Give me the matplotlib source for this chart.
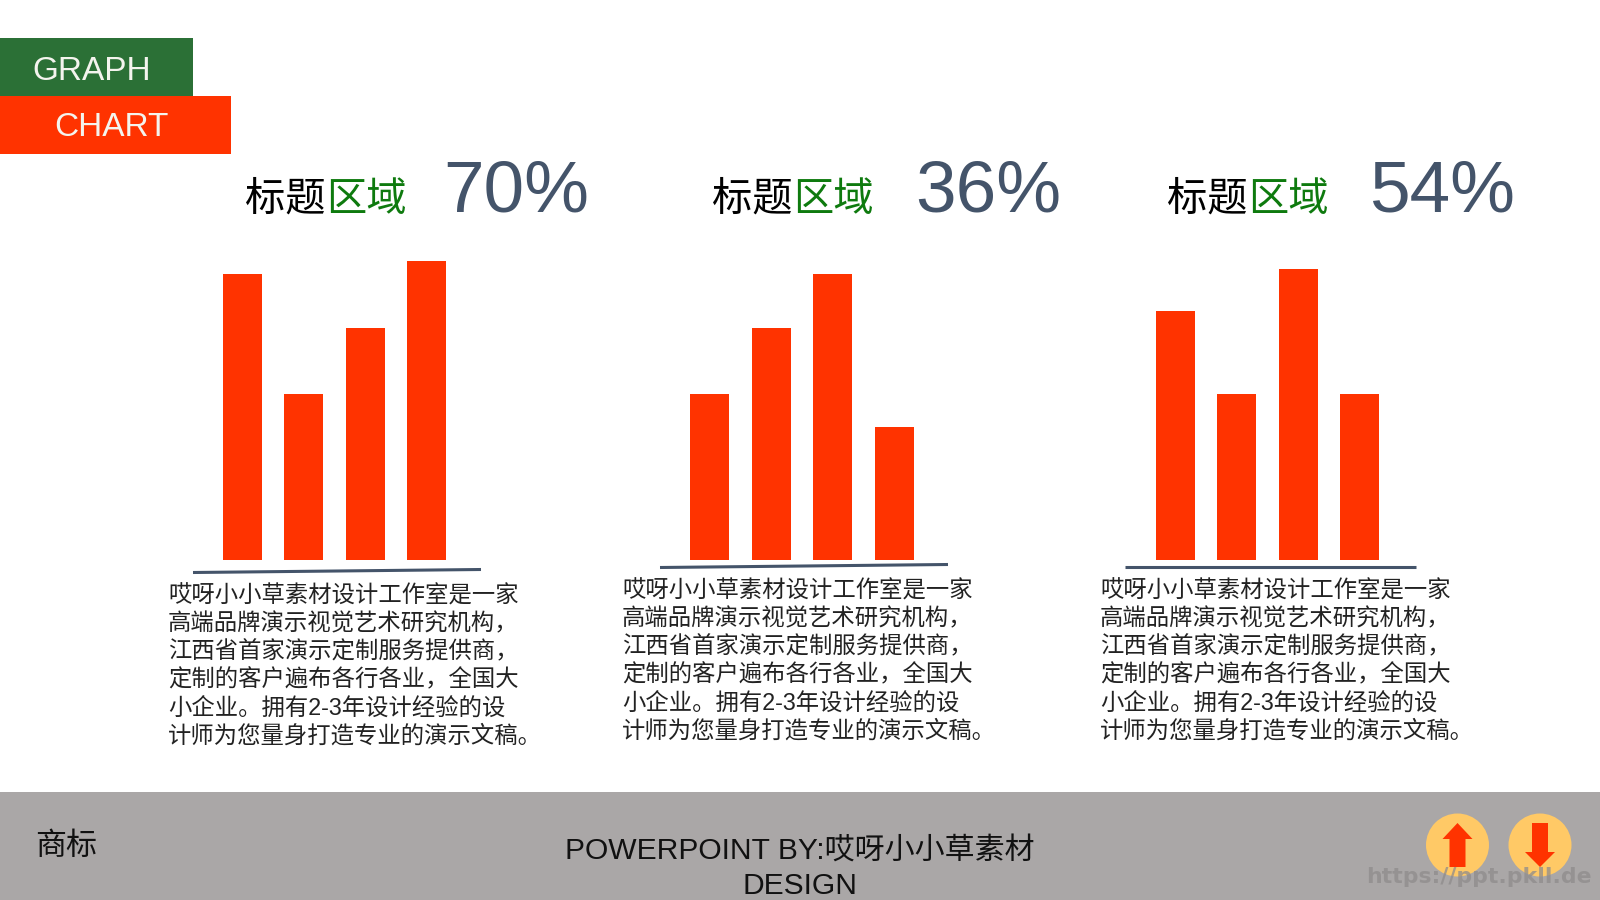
import matplotlib
matplotlib.use('Agg')
import matplotlib.pyplot as plt
from matplotlib.patches import Circle, Polygon, Rectangle

# bar values
bars_1 = [4.3, 2.5, 3.5, 4.5]
bars_2 = [2.5, 3.5, 4.3, 2.0]
bars_3 = [3.75, 2.5, 4.38, 2.5]
percents = ['70%', '36%', '54%']
title_black = '标题'
title_green = '区域'
body_lines = ['哎呀小小草素材设计工作室是一家',
              '高端品牌演示视觉艺术研究机构，',
              '江西省首家演示定制服务提供商，',
              '定制的客户遍布各行各业，全国大',
              '小企业。拥有2-3年设计经验的设',
              '计师为您量身打造专业的演示文稿。']
footer_lines = ['POWERPOINT BY:哎呀小小草素材', 'DESIGN']

RED = '#ff3300'
SLATE = '#44546a'
GREEN = '#0e7a0e'
FONTS = ['Liberation Sans', 'Noto Sans CJK SC']
plt.rcParams['font.family'] = FONTS

W, H = 1600, 900
fig = plt.figure(figsize=(16, 9), dpi=100)
fig.patch.set_facecolor('white')

# page axes in pixels, y going down
page = fig.add_axes([0, 0, 1, 1])
page.set_xlim(0, W)
page.set_ylim(H, 0)
page.axis('off')

page.add_patch(Rectangle((0, 38), 193, 58, color='#2b7036', lw=0))
page.add_patch(Rectangle((0, 96), 231, 58, color=RED, lw=0))
page.text(92, 71, 'GRAPH', color='#f4f4ee', fontsize=24, ha='center', va='center')
page.text(111, 127, 'CHART', color='#f4f4ee', fontsize=24, ha='center', va='center')

title_x = [245.5, 712, 1167]
percent_x = [443, 915, 1369]
for i in range(3):
    page.text(title_x[i], 211, title_black, color='black', fontsize=29, va='baseline')
    page.text(title_x[i] + 81, 211, title_green, color=GREEN, fontsize=29, va='baseline')
    page.text(percent_x[i], 212, percents[i], color=SLATE, fontsize=52.5, va='baseline')

# the three small bar charts
bar_left = [211.5, 679, 1144.5]
for vals, left in zip([bars_1, bars_2, bars_3], bar_left):
    ax = fig.add_axes([left / W, (H - 560) / H, 246 / W, 332 / H])
    ax.bar(range(4), vals, width=0.634, color=RED)
    ax.set_xlim(-0.5, 3.5)
    ax.set_ylim(0, 5)
    ax.axis('off')

page.plot([193, 481], [572.5, 569.5], color=SLATE, lw=2.2, solid_capstyle='butt')
page.plot([660, 948], [567.5, 564.5], color=SLATE, lw=2.2, solid_capstyle='butt')
page.plot([1125, 1416], [567, 567], color=SLATE, lw=2.2, solid_capstyle='butt')

body_x = [168, 622, 1100]
body_y = [596, 591, 591]
for x, y in zip(body_x, body_y):
    for j, line in enumerate(body_lines):
        page.text(x, y + j * 28.1, line, color='#222222', fontsize=16.8, va='center')

# footer
page.add_patch(Rectangle((0, 792), W, 108, color='#aaa7a7', lw=0))
page.text(35.5, 847, '商标', color='#111111', fontsize=22.3, va='center')
page.text(800, 851, footer_lines[0], color='#111111', fontsize=21.6, ha='center', va='center')
page.text(800, 886, footer_lines[1], color='#111111', fontsize=21.6, ha='center', va='center')

page.add_patch(Circle((1457.5, 845), 31.5, color='#ffc966', lw=0))
page.add_patch(Circle((1540, 845), 31.5, color='#ffc966', lw=0))
page.add_patch(Polygon([(1457.5, 823), (1472.5, 839), (1465.5, 839), (1465.5, 867),
                        (1449.5, 867), (1449.5, 839), (1442.5, 839)], color=RED, lw=0))
page.add_patch(Polygon([(1540, 867), (1555, 852), (1548, 852), (1548, 823),
                        (1532, 823), (1532, 852), (1525, 852)], color=RED, lw=0))

page.text(1366, 877, 'https://ppt.pkll.de', color='#8f8c8c', alpha=0.75, fontsize=15.8,
          fontweight='bold', family='DejaVu Sans', va='center')

fig.savefig('out.png', dpi=100)
